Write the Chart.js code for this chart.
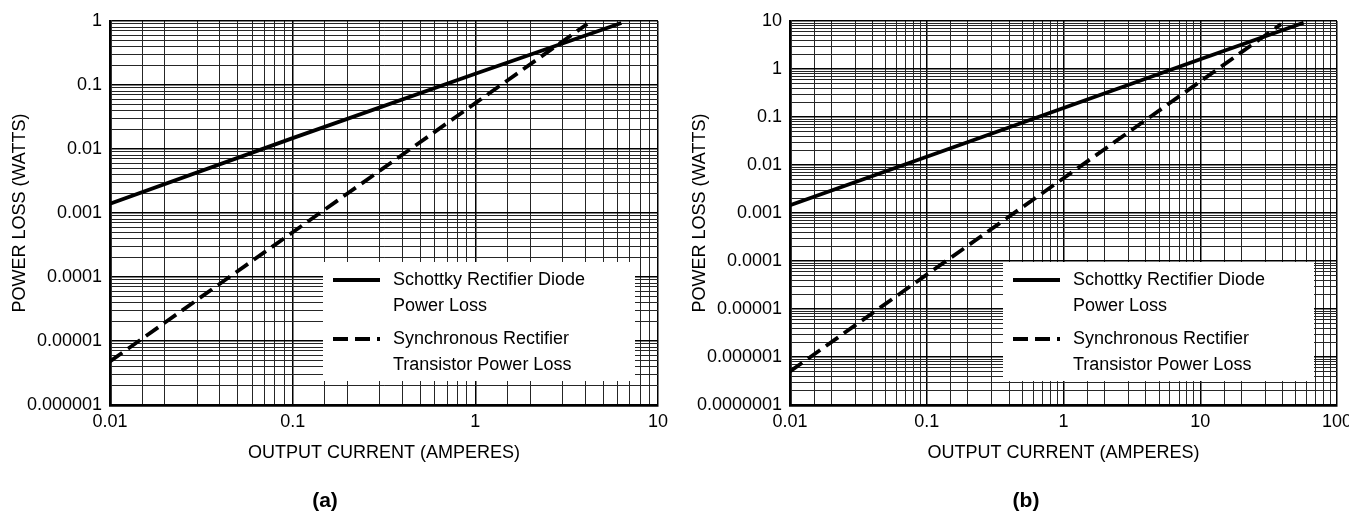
<!DOCTYPE html>
<html>
<head>
<meta charset="utf-8">
<script src="https://cdn.jsdelivr.net/npm/chart.js@4.4.1/dist/chart.umd.min.js"></script>
<style>
  html, body { margin: 0; padding: 0; background: #fff; }
  #wrapA { position: absolute; left: 0; top: 0; width: 680px; height: 513px; }
  #wrapB { position: absolute; left: 680px; top: 0; width: 669px; height: 513px; }
</style>
</head>
<body>
<div id="wrapA"><canvas id="chartA" width="680" height="513"></canvas></div>
<div id="wrapB"><canvas id="chartB" width="669" height="513"></canvas></div>
<script>
// fonts
const FONT = "'Liberation Sans', Arial, sans-serif";
const FSIZE = 18;

// texts
const xTitle = 'OUTPUT CURRENT (AMPERES)';
const yTitle = 'POWER LOSS (WATTS)';
const schottkyLabel = ['Schottky Rectifier Diode', 'Power Loss'];
const syncLabel = ['Synchronous Rectifier', 'Transistor Power Loss'];

// (a) tick labels
const xTicksA = ['0.01', '0.1', '1', '10'];
const yTicksA = ['0.000001', '0.00001', '0.0001', '0.001', '0.01', '0.1', '1'];

// (a) data
const schottkyCurrentA = [0.01, 0.1, 1, 6.3];
const schottkyLossA = [0.0014, 0.0148, 0.15, 0.93];
const syncCurrentA = [0.01, 0.1, 1, 4.1];
const syncLossA = [0.0000048, 0.0005, 0.052, 0.9];

// (b) tick labels
const xTicksB = ['0.01', '0.1', '1', '10', '100'];
const yTicksB = ['0.0000001', '0.000001', '0.00001', '0.0001', '0.001', '0.01', '0.1', '1', '10'];

// (b) data
const schottkyCurrentB = [0.01, 0.1, 1, 10, 57];
const schottkyLossB = [0.00145, 0.0149, 0.154, 1.59, 9.2];
const syncCurrentB = [0.01, 0.1, 1, 10, 39];
const syncLossB = [0.0000005, 0.000052, 0.0053, 0.55, 8.6];

// log paper grid: 1..9 per decade (x also has 1.5)
function gridValues(labels, withHalf) {
  const decades = labels.map(Number);
  const mult = withHalf ? [1, 1.5, 2, 3, 4, 5, 6, 7, 8, 9] : [1, 2, 3, 4, 5, 6, 7, 8, 9];
  const out = [];
  decades.forEach((d, i) => {
    if (i === decades.length - 1) { out.push(d); return; }
    mult.forEach(m => out.push(Number((m * d).toPrecision(3))));
  });
  return out;
}

function isDecade(v) {
  const l = Math.log10(v);
  return Math.abs(l - Math.round(l)) < 1e-6;
}

function labelFor(labels) {
  return (v) => {
    const i = labels.findIndex(s => Math.abs(Math.log10(Number(s)) - Math.log10(v)) < 1e-6);
    return i >= 0 ? labels[i] : '';
  };
}

function toPoints(xs, ys) {
  return xs.map((x, i) => ({ x: x, y: ys[i] }));
}

// white legend box sitting on the grid
const legendBox = {
  id: 'legendBox',
  beforeDatasetsDraw(chart) {
    const { ctx, chartArea: ca } = chart;
    const left = ca.left + 213, right = ca.right - 23;
    const top = ca.top + 241, bottom = ca.bottom - 24;
    ctx.save();
    ctx.fillStyle = '#fff';
    ctx.fillRect(left, top, right - left, bottom - top);

    const rows = [[18, 44], [77, 103]];
    chart.data.datasets.forEach((ds, i) => {
      const y0 = top + rows[i][0];
      ctx.strokeStyle = '#000';
      ctx.lineWidth = 3.8;
      ctx.setLineDash(ds.borderDash || []);
      ctx.beginPath();
      ctx.moveTo(left + 10, y0);
      ctx.lineTo(left + 57, y0);
      ctx.stroke();
      ctx.setLineDash([]);
      ctx.fillStyle = '#000';
      ctx.font = FSIZE + 'px ' + FONT;
      ctx.textBaseline = 'middle';
      ctx.textAlign = 'left';
      ds.legendText.forEach((t, k) => ctx.fillText(t, left + 70, top + rows[i][k]));
    });
    ctx.restore();
  }
};

// "(a)" / "(b)" caption under each chart
const caption = {
  id: 'caption',
  afterDraw(chart, args, opts) {
    const { ctx } = chart;
    ctx.save();
    ctx.fillStyle = '#000';
    ctx.font = 'bold 21px ' + FONT;
    ctx.textAlign = 'center';
    ctx.textBaseline = 'middle';
    ctx.fillText(opts.text, opts.x, opts.y);
    ctx.restore();
  }
};

function makeChart(canvasId, cfg) {
  const xGrid = gridValues(cfg.xTicks, true);
  const yGrid = gridValues(cfg.yTicks, false);
  const xMin = Number(cfg.xTicks[0]), xMax = Number(cfg.xTicks[cfg.xTicks.length - 1]);
  const yMin = Number(cfg.yTicks[0]), yMax = Number(cfg.yTicks[cfg.yTicks.length - 1]);

  const gridColor = (c) => (c.tick && isDecade(c.tick.value)) ? '#000' : '#262626';
  const gridWidth = (c) => (c.tick && isDecade(c.tick.value)) ? 1.5 : 1;

  return new Chart(document.getElementById(canvasId), {
    type: 'line',
    data: {
      datasets: [{
        label: schottkyLabel.join(' '),
        legendText: schottkyLabel,
        data: toPoints(cfg.schottkyX, cfg.schottkyY),
        borderColor: '#000',
        borderWidth: 3.8,
        pointRadius: 0,
        tension: 0
      }, {
        label: syncLabel.join(' '),
        legendText: syncLabel,
        data: toPoints(cfg.syncX, cfg.syncY),
        borderColor: '#000',
        borderWidth: 3.8,
        borderDash: [15, 7],
        pointRadius: 0,
        tension: 0
      }]
    },
    options: {
      responsive: false,
      animation: false,
      events: [],
      layout: { padding: { top: 21, right: cfg.padRight, left: 0, bottom: 0 } },
      plugins: {
        legend: { display: false },
        tooltip: { enabled: false },
        caption: { text: cfg.caption, x: cfg.captionX, y: 501 }
      },
      scales: {
        x: {
          type: 'logarithmic',
          min: xMin,
          max: xMax,
          afterBuildTicks: (s) => { s.ticks = xGrid.map(v => ({ value: v })); },
          afterFit: (s) => { s.height = 108; s.paddingLeft = 0; s.paddingRight = 0; },
          ticks: {
            autoSkip: false,
            maxRotation: 0,
            padding: 6,
            color: '#000',
            font: { family: FONT, size: FSIZE },
            callback: labelFor(cfg.xTicks)
          },
          grid: { drawTicks: false, color: gridColor, lineWidth: gridWidth },
          border: { display: true, color: '#000', width: 2.8 },
          title: {
            display: true,
            text: xTitle,
            color: '#000',
            font: { family: FONT, size: FSIZE },
            padding: { top: 0, bottom: 49 }
          }
        },
        y: {
          type: 'logarithmic',
          min: yMin,
          max: yMax,
          afterBuildTicks: (s) => { s.ticks = yGrid.map(v => ({ value: v })); },
          afterFit: (s) => { s.width = 110; s.paddingTop = 0; s.paddingBottom = 0; },
          ticks: {
            autoSkip: false,
            padding: 8,
            color: '#000',
            font: { family: FONT, size: FSIZE },
            callback: labelFor(cfg.yTicks)
          },
          grid: { drawTicks: false, color: gridColor, lineWidth: gridWidth },
          border: { display: true, color: '#000', width: 2.8 },
          title: {
            display: true,
            text: yTitle,
            color: '#000',
            font: { family: FONT, size: FSIZE },
            padding: { top: 9, bottom: 0 }
          }
        }
      }
    },
    plugins: [legendBox, caption]
  });
}

makeChart('chartA', {
  xTicks: xTicksA, yTicks: yTicksA,
  schottkyX: schottkyCurrentA, schottkyY: schottkyLossA,
  syncX: syncCurrentA, syncY: syncLossA,
  padRight: 22, caption: '(a)', captionX: 325
});

makeChart('chartB', {
  xTicks: xTicksB, yTicks: yTicksB,
  schottkyX: schottkyCurrentB, schottkyY: schottkyLossB,
  syncX: syncCurrentB, syncY: syncLossB,
  padRight: 12, caption: '(b)', captionX: 346
});
</script>
</body>
</html>
